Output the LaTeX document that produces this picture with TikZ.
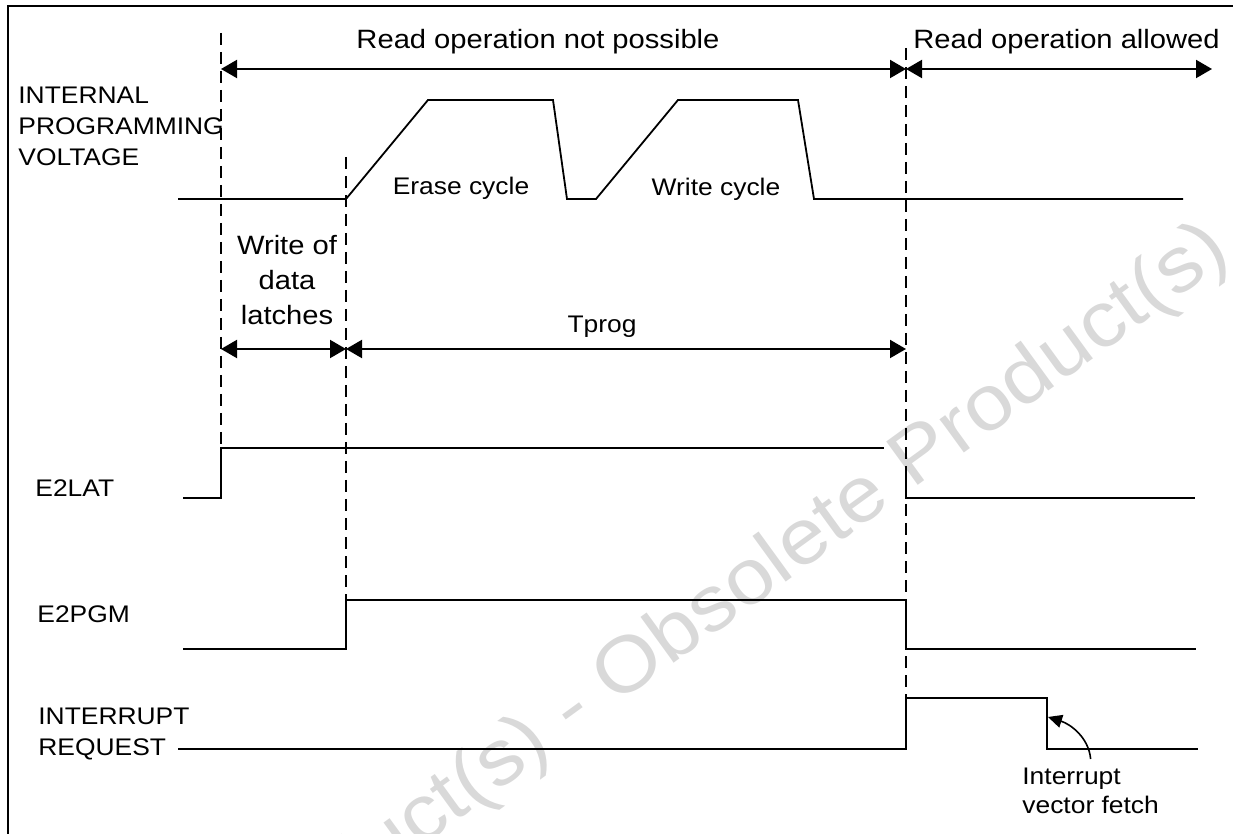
\documentclass[tikz,border=0pt]{standalone}
\usepackage{fontspec}
\setmainfont{Liberation Sans}[FakeStretch=1.1]
\usetikzlibrary{arrows.meta}
\tikzset{
  sig/.style={line width=1pt},
  guide/.style={line width=0.9pt,dash pattern=on 6pt off 3.5pt},
  dim/.style={line width=1pt,{Triangle[length=8pt,width=9pt]}-{Triangle[length=8pt,width=9pt]}},
  lbl/.style={inner sep=0pt,font=\fontsize{12}{15.5}\selectfont,align=left},
  big/.style={inner sep=0pt,font=\fontsize{13.25}{17.5}\selectfont,align=center}
}
\begin{document}
\begin{tikzpicture}[x=0.5pt,y=-0.5pt]
\useasboundingbox (0,0) rectangle (1233,834);
\node[rotate=36,anchor=base,inner sep=0pt,text=black!15,font=\fontsize{39}{39}\selectfont] (wm) at (585,728) {Obsolete Product(s) - Obsolete Product(s)};
\draw[line width=1pt] (8,834) -- (8,6) -- (1233,6);
\foreach \n/\x/\y in {r0/221/69,r1/906/69,r2/1212/69,w0/221/349,w1/346/349,w2/906/349}
  \coordinate (\n) at (\x,\y);
\foreach \a/\b in {r0/r1,r1/r2,w0/w1,w1/w2} \draw[dim] (\a) -- (\b);
\foreach \x/\a/\b in {221/33/448,346/157/600,906/48/698} \draw[guide] (\x,\a) -- (\x,\b);
\node[big,anchor=base] (nopos) at (538,49) {Read operation not possible};
\node[big,anchor=base west] (allow) at (913,49) {Read operation allowed};
\node[big,anchor=north] (latch) at (287,235) {Write of\\data\\latches};
\node[lbl,anchor=base] (tprog) at (602,333) {Tprog};
\node[lbl,anchor=north west] (volt) at (18,87) {INTERNAL\\PROGRAMMING\\VOLTAGE};
\node[lbl,anchor=base west] (lat) at (35,496) {E2LAT};
\node[lbl,anchor=base west] (pgm) at (37,622) {E2PGM};
\node[lbl,anchor=north west] (irq) at (38,708) {INTERRUPT\\REQUEST};
\draw[line width=0.9pt] (178,199) -- (346,199) -- (428,100) -- (553,100) -- (567,199) -- (596,199)
  -- (678,100) -- (798,100) -- (814,199) -- (1183,199);
\node[lbl,anchor=base] (erase) at (461,195) {Erase cycle};
\node[lbl,anchor=base] (wcyc) at (716,196) {Write cycle};
\draw[sig] (183,498) -- (221,498) -- (221,448) -- (884,448);
\draw[sig] (906,470) -- (906,498) -- (1195,498);
\draw[sig] (183,649) -- (346,649) -- (346,600) -- (906,600) -- (906,649) -- (1196,649);
\draw[sig] (178,749) -- (906,749) -- (906,698) -- (1047,698) -- (1047,749) -- (1198,749);
\node[lbl,anchor=north west,font=\fontsize{12}{14.5}\selectfont] (ivf) at (1022,768) {Interrupt\\vector fetch};
\coordinate (fetch) at (1048,717);
\draw[line width=0.8pt,-{Triangle[length=7pt,width=6.5pt]}] ([yshift=4.5pt]ivf.north) .. controls +(-2,-22) and +(22,7) .. (fetch);
%\draw[red] (fetch) circle (3);
\end{tikzpicture}
\end{document}
